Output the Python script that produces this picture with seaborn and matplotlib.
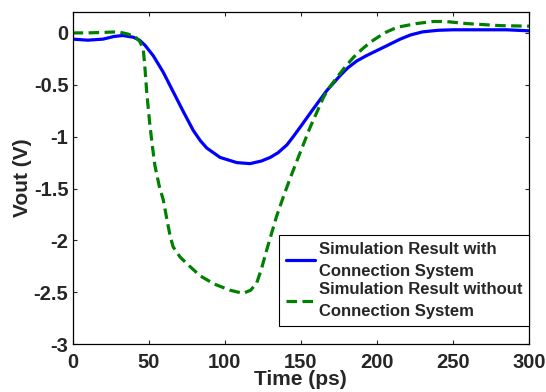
import matplotlib
matplotlib.use("Agg")
import matplotlib.pyplot as plt
import seaborn as sns
import pandas as pd

sns.set_style("ticks")
plt.rcParams['font.family'] = ['Liberation Sans', 'DejaVu Sans']
plt.rcParams['font.weight'] = 'bold'
plt.rcParams['axes.unicode_minus'] = False

with_x = [0, 10, 20, 27, 33, 40, 44, 47.6, 53, 59.6, 66.2, 72.8, 79.3, 84, 88.2, 96.9,
          107.9, 116.6, 124, 129.9, 135, 140.8, 145, 149.5, 158.3, 167.1, 175.9, 181,
          186.8, 193, 200, 207, 215.3, 222, 230, 240, 250, 270, 285, 300]
with_y = [-0.06, -0.07, -0.06, -0.035, -0.025, -0.042, -0.07, -0.12, -0.22, -0.38, -0.57,
          -0.76, -0.94, -1.04, -1.11, -1.20, -1.25, -1.26, -1.235, -1.20, -1.155, -1.08,
          -1.00, -0.91, -0.73, -0.555, -0.41, -0.335, -0.27, -0.22, -0.17, -0.12, -0.06,
          -0.02, 0.01, 0.025, 0.03, 0.03, 0.03, 0.02]

without_x = [0, 10, 20, 30, 36, 41, 44, 46.4, 47.6, 48.7, 50.8, 52.5, 54.1, 57, 59.6, 62,
             64, 66, 70.6, 77, 83.7, 93, 103.5, 112, 117, 121, 124, 127.6, 134, 138.5, 143,
             148.4, 156.1, 164.9, 169, 173.7, 179, 184.6, 190, 195.6, 205, 213.2, 226, 237,
             245, 259, 270, 281, 300]
without_y = [0.0, 0.0, 0.005, 0.01, -0.01, -0.035, -0.08, -0.15, -0.35, -0.57, -0.89, -1.1,
             -1.28, -1.48, -1.61, -1.80, -1.95, -2.06, -2.16, -2.25, -2.34, -2.42, -2.48,
             -2.51, -2.48, -2.41, -2.28, -2.09, -1.77, -1.58, -1.40, -1.196, -0.91, -0.62,
             -0.52, -0.43, -0.33, -0.235, -0.16, -0.09, 0.0, 0.054, 0.09, 0.11, 0.11, 0.09,
             0.08, 0.07, 0.065]

label_with = "Simulation Result with\nConnection System"
label_without = "Simulation Result without\nConnection System"

x_ticks = [0, 50, 100, 150, 200, 250, 300]
y_ticks = [0, -0.5, -1, -1.5, -2, -2.5, -3]
y_tick_labels = ["0", "-0.5", "-1", "-1.5", "-2", "-2.5", "-3"]

df = pd.concat([
    pd.DataFrame({"Time": with_x, "Vout": with_y, "Series": label_with}),
    pd.DataFrame({"Time": without_x, "Vout": without_y, "Series": label_without}),
], ignore_index=True)

fig = plt.figure(figsize=(5.46, 3.92), dpi=100)
ax = fig.add_axes([0.133, 0.122, 0.836, 0.847])

sns.lineplot(data=df, x="Time", y="Vout", hue="Series", style="Series",
             palette={label_with: "#0000ff", label_without: "#008000"},
             dashes={label_with: "", label_without: (3.3, 1.7)},
             linewidth=2.3, sort=False, estimator=None, ax=ax)

ax.set_xlim(0, 300)
ax.set_ylim(-3, 0.2)
ax.set_xticks(x_ticks)
ax.set_xticklabels([str(t) for t in x_ticks])
ax.set_yticks(y_ticks)
ax.set_yticklabels(y_tick_labels)
ax.tick_params(direction="in", length=3, width=0.8, top=True, right=True,
               labelsize=14.5)
ax.tick_params(axis="x", pad=6)
ax.tick_params(axis="y", pad=3)
for lab in ax.get_xticklabels() + ax.get_yticklabels():
    lab.set_fontweight("bold")
for s in ax.spines.values():
    s.set_visible(True)
    s.set_linewidth(0.9)
    s.set_color("black")

ax.set_xlabel("Time (ps)", fontsize=15, fontweight="bold", labelpad=-1)
ax.set_ylabel("Vout (V)", fontsize=15, fontweight="bold", labelpad=1)

leg = ax.legend(loc="lower right", bbox_to_anchor=(1.0, 0.055), fontsize=12,
                frameon=True, fancybox=False, edgecolor="black", framealpha=1,
                borderaxespad=0, handlelength=1.75, handletextpad=0.25,
                borderpad=0.4, labelspacing=0.2)
leg.get_frame().set_linewidth(0.8)
for t in leg.get_texts():
    t.set_fontweight("bold")
    t.set_linespacing(1.6)

fig.savefig("out.png", dpi=100)
